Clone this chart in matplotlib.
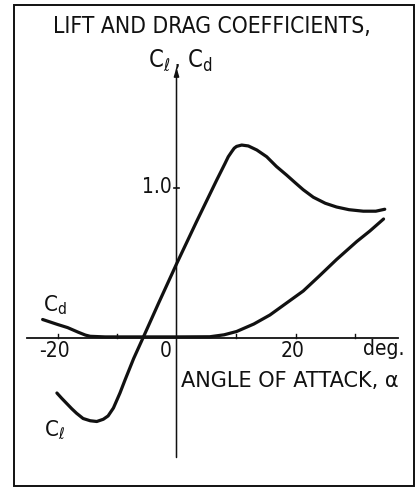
import matplotlib
matplotlib.use("Agg")
import matplotlib.pyplot as plt
from matplotlib.patches import Rectangle

plt.rcParams["font.family"] = ["DejaVu Sans"]
plt.rcParams["font.stretch"] = "condensed"
plt.rcParams["mathtext.fontset"] = "custom"
plt.rcParams["mathtext.rm"] = "DejaVu Sans:stretch=condensed"
plt.rcParams["mathtext.it"] = "DejaVu Sans:stretch=condensed"
plt.rcParams["mathtext.bf"] = "DejaVu Sans:bold:stretch=condensed"

# Lift coefficient vs angle of attack (deg)
cl_alpha = [-20.1, -19.3, -18.45, -17.6, -16.8, -15.7, -14.5, -13.4, -12.3, -11.5,
            -10.6, -9.5, -8.65, -7.2, -5.6, -3.0, 0.0, 3.4, 6.76, 8.15, 8.7, 9.3, 9.7,
            10.1, 10.96, 12.07, 13.5, 15.16, 16.8, 18.5, 20.0, 21.3, 23.0, 25.0, 26.9,
            29.0, 31.4, 33.5, 35.0]
cl_vals = [-0.37, -0.405, -0.44, -0.475, -0.505, -0.54, -0.555, -0.56, -0.545, -0.523,
           -0.47, -0.37, -0.283, -0.14, 0.0, 0.23, 0.49, 0.775, 1.05, 1.16, 1.205, 1.24,
           1.262, 1.274, 1.283, 1.277, 1.25, 1.205, 1.14, 1.083, 1.03, 0.985, 0.935,
           0.895, 0.87, 0.852, 0.842, 0.842, 0.855]

# Drag coefficient vs angle of attack (deg)
cd_alpha = [-22.5, -20.0, -18.3, -16.5, -15.3, -14.5, -12.0, -5.0, 0.0, 5.6, 8.0, 10.1,
            13.0, 15.7, 18.5, 21.3, 24.0, 26.9, 30.3, 32.5, 34.8]
cd_vals = [0.12, 0.087, 0.066, 0.035, 0.016, 0.008, 0.004, 0.004, 0.004, 0.005, 0.018,
           0.04, 0.09, 0.15, 0.23, 0.31, 0.41, 0.52, 0.64, 0.71, 0.79]

x_ticks = [-20, -10, 10, 20, 30]
x_ticklabels = {-20: "-20", 20: "20"}
y_tick = 1.0

W, H = 416, 488
fig = plt.figure(figsize=(W / 100, H / 100), dpi=100)
ax = fig.add_axes([0, 0, 1, 1])
ax.set_axis_off()

# pixel -> data mapping: origin at (176.5, 337.5), 5.95 px/deg, 150 px per unit
x0, y0, sx, sy = 176.5, 337.5, 5.95, 150.0
ax.set_xlim(-x0 / sx, (W - x0) / sx)
ax.set_ylim((y0 - H) / sy, y0 / sy)


def px(x, y):
    return x / W, 1 - y / H


ink = "#111111"

# outer frame
fig.patches.append(Rectangle(px(14, 486), 400 / W, 481 / H, transform=fig.transFigure,
                             fill=False, lw=1.4, ec=ink))

# axes through the origin
ax.plot([-25.1, 37.2], [0, 0], color=ink, lw=1.3)
ax.annotate("", xy=(0, 1.80), xytext=(0, -0.80),
            arrowprops=dict(arrowstyle="-|>,head_length=0.5,head_width=0.15",
                            color=ink, lw=1.1, shrinkA=0, shrinkB=0))

for t in x_ticks:
    ax.plot([t, t], [0, 0.022], color=ink, lw=1.0)
ax.plot([-0.35, 0.35], [y_tick, y_tick], color=ink, lw=1.2)

ax.plot(cl_alpha, cl_vals, color=ink, lw=2.3, solid_capstyle="round",
        solid_joinstyle="round")
ax.plot(cd_alpha, cd_vals, color=ink, lw=2.3, solid_capstyle="round",
        solid_joinstyle="round")

# labels
fig.text(*px(212, 27), "LIFT AND DRAG COEFFICIENTS,", ha="center", va="center",
         fontsize=16.4, color=ink)
fig.text(*px(180, 60), r"$\mathregular{C_{\ell}\,,\,C_d}$", ha="center", va="center",
         fontsize=17, color=ink)
fig.text(*px(172, 187), "1.0", ha="right", va="center", fontsize=15, color=ink)

for t, lab in x_ticklabels.items():
    fig.text(*px(x0 + t * sx - 3, 351), lab, ha="center", va="center", fontsize=15,
             color=ink)
fig.text(*px(166, 351), "0", ha="center", va="center", fontsize=15, color=ink)
fig.text(*px(384, 349), "deg.", ha="center", va="center", fontsize=15, color=ink)
fig.text(*px(181, 381), "ANGLE OF ATTACK, α", ha="left", va="center", fontsize=15,
         fontstretch="normal", color=ink)

fig.text(*px(55, 305), r"$\mathregular{C_d}$", ha="center", va="center", fontsize=16,
         color=ink)
fig.text(*px(55, 430), r"$\mathregular{C_{\ell}}$", ha="center", va="center", fontsize=16,
         color=ink)

fig.savefig("out.png", dpi=100, facecolor="white")
